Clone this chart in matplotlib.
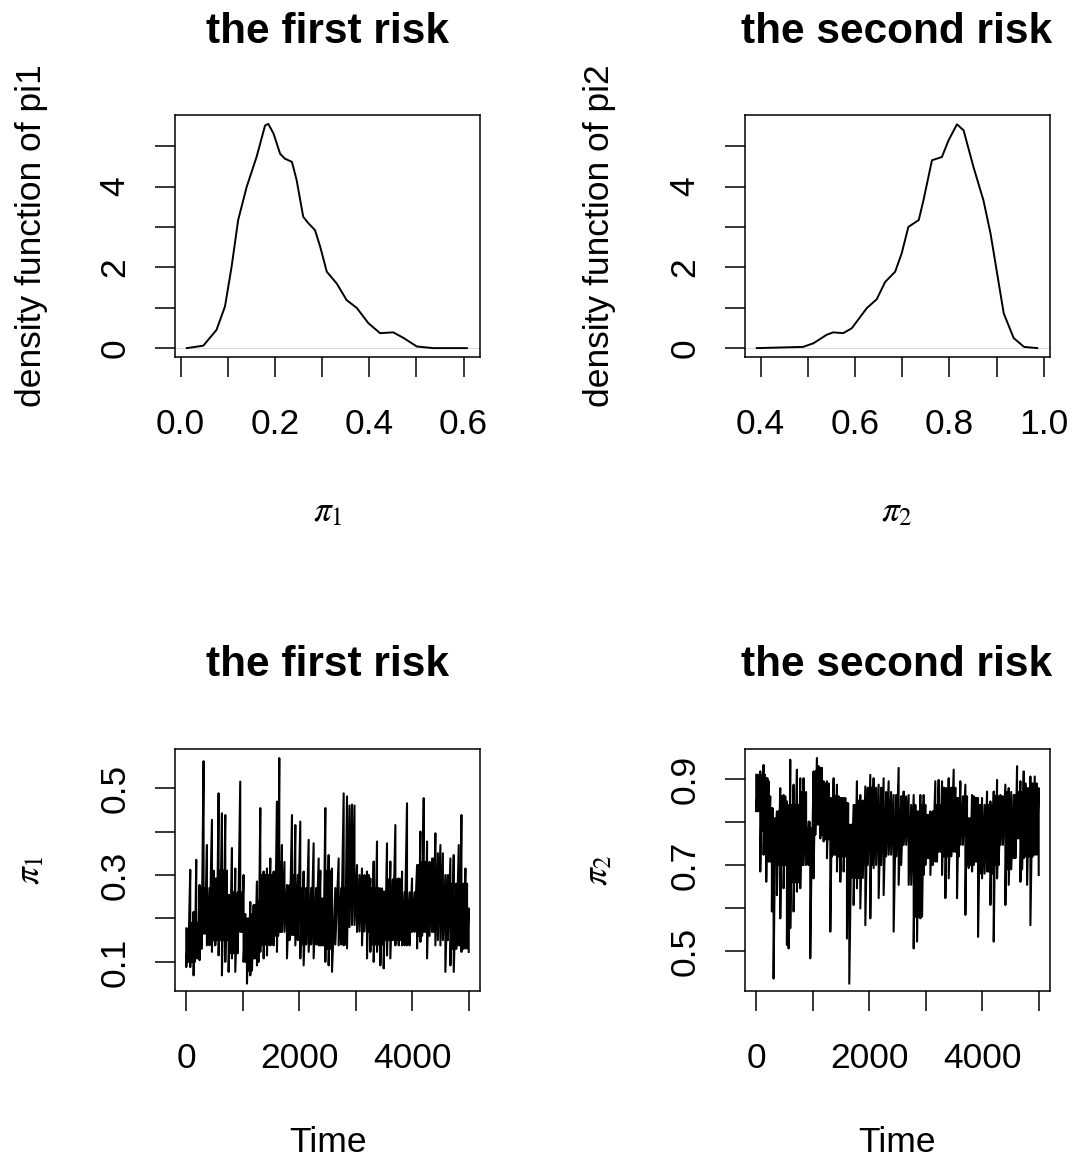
import numpy as np
import matplotlib

matplotlib.use("Agg")
import matplotlib.pyplot as plt

plt.rcParams["font.family"] = ["Liberation Sans", "DejaVu Sans"]
plt.rcParams["mathtext.fontset"] = "stix"

# density of pi1
d1_x = [0.013, 0.048, 0.076, 0.094, 0.108, 0.122, 0.140, 0.161, 0.179, 0.186,
        0.197, 0.211, 0.221, 0.236, 0.246, 0.260, 0.271, 0.285, 0.296, 0.310,
        0.331, 0.352, 0.374, 0.398, 0.423, 0.451, 0.473, 0.501, 0.536, 0.607]
d1_y = [0.0, 0.06, 0.45, 1.03, 2.01, 3.17, 3.99, 4.73, 5.51, 5.55,
        5.31, 4.81, 4.69, 4.61, 4.16, 3.25, 3.09, 2.92, 2.51, 1.89,
        1.60, 1.19, 0.99, 0.62, 0.37, 0.39, 0.25, 0.04, 0.0, 0.0]

# density of pi2
d2_x = [0.392, 0.490, 0.512, 0.540, 0.554, 0.575, 0.593, 0.625, 0.646, 0.664,
        0.685, 0.699, 0.713, 0.735, 0.745, 0.763, 0.784, 0.798, 0.816, 0.830,
        0.851, 0.872, 0.887, 0.901, 0.915, 0.936, 0.958, 0.986]
d2_y = [0.0, 0.03, 0.12, 0.33, 0.39, 0.37, 0.49, 0.99, 1.21, 1.64,
        1.89, 2.35, 3.00, 3.17, 3.66, 4.65, 4.73, 5.14, 5.54, 5.39,
        4.48, 3.66, 2.84, 1.85, 0.86, 0.25, 0.03, 0.0]

# trace of pi1: per-iteration-window max / min
t1_iter = [0, 71, 130, 177, 236, 307, 366, 455, 514, 573, 632, 691, 750, 809,
           868, 956, 1015, 1075, 1134, 1193, 1252, 1311, 1370, 1429, 1488,
           1547, 1606, 1647, 1694, 1783, 1872, 1931, 2019, 2078, 2167, 2255,
           2344, 2403, 2462, 2521, 2580, 2698, 2787, 2846, 2934, 3023, 3111,
           3200, 3259, 3318, 3377, 3436, 3495, 3554, 3613, 3702, 3761, 3820,
           3908, 3997, 4086, 4145, 4204, 4263, 4351, 4410, 4499, 4587, 4676,
           4735, 4824, 4871, 4942, 5000]
t1_hi = [0.177, 0.312, 0.215, 0.335, 0.277, 0.562, 0.369, 0.427, 0.292, 0.488,
         0.442, 0.438, 0.254, 0.362, 0.315, 0.515, 0.300, 0.200, 0.238, 0.231,
         0.285, 0.454, 0.308, 0.315, 0.338, 0.308, 0.469, 0.569, 0.369, 0.277,
         0.438, 0.415, 0.423, 0.308, 0.381, 0.373, 0.338, 0.246, 0.454, 0.346,
         0.315, 0.338, 0.488, 0.481, 0.462, 0.323, 0.315, 0.308, 0.292, 0.331,
         0.377, 0.269, 0.262, 0.373, 0.331, 0.415, 0.292, 0.308, 0.465, 0.292,
         0.323, 0.400, 0.477, 0.377, 0.338, 0.396, 0.369, 0.300, 0.338, 0.346,
         0.369, 0.438, 0.315, 0.223]
t1_lo = [0.088, 0.088, 0.069, 0.108, 0.104, 0.165, 0.138, 0.123, 0.138, 0.115,
         0.069, 0.100, 0.077, 0.108, 0.077, 0.169, 0.100, 0.050, 0.069, 0.108,
         0.092, 0.123, 0.108, 0.115, 0.138, 0.138, 0.123, 0.169, 0.169, 0.108,
         0.162, 0.138, 0.108, 0.092, 0.123, 0.108, 0.138, 0.138, 0.100, 0.092,
         0.077, 0.138, 0.138, 0.131, 0.185, 0.169, 0.138, 0.108, 0.123, 0.100,
         0.123, 0.092, 0.085, 0.115, 0.108, 0.138, 0.138, 0.138, 0.138, 0.169,
         0.131, 0.146, 0.169, 0.108, 0.169, 0.138, 0.138, 0.077, 0.092, 0.077,
         0.138, 0.123, 0.131, 0.123]
# dense core of the pi1 chain, by stretch of iterations
t1_core_start = [0, 190, 400, 700, 960, 1150, 1310, 1500, 1700, 2000, 2300,
                 2550, 2790, 2960, 3250, 3490, 3800, 4080, 4350, 4600]
t1_core_top = [0.19, 0.27, 0.31, 0.26, 0.21, 0.24, 0.30, 0.33, 0.30, 0.27,
               0.31, 0.27, 0.46, 0.30, 0.27, 0.29, 0.26, 0.33, 0.35, 0.28]
t1_core_bot = [0.10, 0.13, 0.15, 0.12, 0.08, 0.10, 0.14, 0.16, 0.15, 0.14,
               0.13, 0.14, 0.18, 0.17, 0.14, 0.15, 0.13, 0.16, 0.15, 0.13]

# trace of pi2
t2_iter = [0, 71, 130, 177, 218, 277, 307, 366, 425, 484, 543, 573, 602, 661,
           720, 779, 838, 927, 956, 1015, 1075, 1134, 1193, 1252, 1311, 1370,
           1429, 1488, 1547, 1606, 1647, 1724, 1783, 1842, 1931, 2019, 2078,
           2167, 2255, 2344, 2432, 2521, 2610, 2698, 2787, 2846, 2905, 2964,
           3023, 3082, 3170, 3229, 3289, 3348, 3407, 3495, 3554, 3613, 3702,
           3761, 3820, 3879, 3926, 3997, 4086, 4145, 4204, 4263, 4322, 4410,
           4469, 4558, 4617, 4676, 4735, 4794, 4853, 4930, 5000]
t2_hi = [0.910, 0.918, 0.933, 0.902, 0.895, 0.832, 0.809, 0.825, 0.879, 0.863,
         0.848, 0.786, 0.945, 0.887, 0.922, 0.902, 0.902, 0.801, 0.786, 0.918,
         0.949, 0.926, 0.895, 0.895, 0.856, 0.902, 0.887, 0.856, 0.856, 0.844,
         0.794, 0.840, 0.895, 0.863, 0.883, 0.910, 0.902, 0.887, 0.902, 0.895,
         0.863, 0.926, 0.871, 0.863, 0.863, 0.825, 0.863, 0.863, 0.817, 0.825,
         0.895, 0.898, 0.895, 0.879, 0.902, 0.922, 0.856, 0.895, 0.887, 0.809,
         0.863, 0.856, 0.856, 0.856, 0.871, 0.848, 0.871, 0.898, 0.863, 0.887,
         0.879, 0.863, 0.930, 0.895, 0.918, 0.879, 0.906, 0.906, 0.879]
t2_lo = [0.825, 0.685, 0.724, 0.661, 0.708, 0.592, 0.436, 0.630, 0.576, 0.646,
         0.514, 0.506, 0.553, 0.592, 0.638, 0.646, 0.700, 0.700, 0.483, 0.669,
         0.794, 0.762, 0.755, 0.716, 0.545, 0.724, 0.685, 0.661, 0.685, 0.529,
         0.424, 0.607, 0.646, 0.599, 0.560, 0.576, 0.693, 0.623, 0.630, 0.724,
         0.545, 0.654, 0.747, 0.654, 0.506, 0.522, 0.576, 0.677, 0.716, 0.677,
         0.708, 0.731, 0.677, 0.623, 0.669, 0.731, 0.623, 0.747, 0.584, 0.693,
         0.685, 0.708, 0.533, 0.669, 0.685, 0.607, 0.522, 0.669, 0.747, 0.607,
         0.654, 0.716, 0.762, 0.661, 0.716, 0.654, 0.560, 0.724, 0.677]
t2_core_start = [0, 190, 500, 750, 960, 1150, 1310, 1600, 1900, 2200, 2450,
                 2670, 2960, 3250, 3610, 3900, 4150, 4380, 4700]
t2_core_top = [0.91, 0.86, 0.84, 0.87, 0.93, 0.89, 0.86, 0.85, 0.88, 0.87,
               0.86, 0.84, 0.84, 0.88, 0.86, 0.84, 0.86, 0.87, 0.89]
t2_core_bot = [0.78, 0.70, 0.66, 0.70, 0.77, 0.76, 0.72, 0.67, 0.70, 0.72,
               0.70, 0.58, 0.70, 0.72, 0.70, 0.68, 0.70, 0.69, 0.72]

FS = 25.5
W, H = 1072, 1161
fig = plt.figure(figsize=(W / 100, H / 100), dpi=100)


def box(left, top, right, bottom):
    return [left / W, 1 - bottom / H, (right - left) / W, (bottom - top) / H]


def style(ax, xticks, xlabels, yticks, ylabels):
    ax.set_xticks(xticks)
    ax.set_xticklabels(xlabels)
    ax.set_yticks(yticks)
    ax.set_yticklabels(ylabels, rotation=90, va="center")
    ax.tick_params(axis="both", length=14.5, width=1.1, labelsize=FS)
    ax.tick_params(axis="x", pad=22)
    ax.tick_params(axis="y", pad=17)
    for s in ax.spines.values():
        s.set_linewidth(1.1)


def every_other(ticks, fmt):
    return [fmt.format(t) if i % 2 == 0 else "" for i, t in enumerate(ticks)]


def sweep(it, hi, lo, core_start, core_top, core_bot):
    """Walk each window from its max to its min, then across the dense core."""
    it = np.asarray(it, dtype=float)
    seg = np.searchsorted(core_start, it, side="right") - 1
    xs, ys = [], []
    for i in range(len(it)):
        xs += [it[i], it[i]]
        ys += [hi[i], lo[i]]
        if i < len(it) - 1:
            mid = (it[i] + it[i + 1]) / 2
            xs += [mid, mid]
            ys += [min(core_top[seg[i]], hi[i]), max(core_bot[seg[i]], lo[i])]
    return xs, ys


# top-left: density pi1
ax1 = fig.add_axes(box(175, 115, 480, 357))
ax1.axhline(0, color="#bbbbbb", lw=0.4)
ax1.plot(d1_x, d1_y, color="black", lw=1.4)
ax1.set_xlim(-0.012, 0.635)
ax1.set_ylim(-0.22, 5.77)
xt = [0.0, 0.1, 0.2, 0.3, 0.4, 0.5, 0.6]
style(ax1, xt, every_other(xt, "{:.1f}"), range(6), every_other(range(6), "{}"))

# top-right: density pi2
ax2 = fig.add_axes(box(745, 115, 1050, 357))
ax2.axhline(0, color="#bbbbbb", lw=0.4)
ax2.plot(d2_x, d2_y, color="black", lw=1.4)
ax2.set_xlim(0.367, 1.013)
ax2.set_ylim(-0.22, 5.77)
xt = [0.4, 0.5, 0.6, 0.7, 0.8, 0.9, 1.0]
style(ax2, xt, every_other(xt, "{:.1f}"), range(6), every_other(range(6), "{}"))

# bottom: traces
tt = [0, 1000, 2000, 3000, 4000, 5000]
ax3 = fig.add_axes(box(175, 749, 480, 991))
ax3.plot(*sweep(t1_iter, t1_hi, t1_lo, t1_core_start, t1_core_top, t1_core_bot),
         color="black", lw=1.5)
ax3.set_xlim(-199, 5200)
ax3.set_ylim(0.033, 0.59)
yt = [0.1, 0.2, 0.3, 0.4, 0.5]
style(ax3, tt, every_other(tt, "{}"), yt, every_other(yt, "{:.1f}"))

ax4 = fig.add_axes(box(745, 749, 1050, 991))
ax4.plot(*sweep(t2_iter, t2_hi, t2_lo, t2_core_start, t2_core_top, t2_core_bot),
         color="black", lw=1.5)
ax4.set_xlim(-199, 5200)
ax4.set_ylim(0.407, 0.97)
yt = [0.5, 0.6, 0.7, 0.8, 0.9]
style(ax4, tt, every_other(tt, "{}"), yt, every_other(yt, "{:.1f}"))

# titles and axis labels at R's margin lines
for cx, cy, title in [(328, 32, "the first risk"), (897, 32, "the second risk"),
                      (328, 665, "the first risk"), (897, 665, "the second risk")]:
    fig.text(cx / W, 1 - cy / H, title, ha="center", va="center",
             fontsize=30.5, fontweight="bold")

fig.text(328 / W, 1 - 512 / H, r"$\pi_1$", ha="center", va="center", fontsize=FS)
fig.text(897 / W, 1 - 512 / H, r"$\pi_2$", ha="center", va="center", fontsize=FS)
fig.text(328 / W, 1 - 1143 / H, "Time", ha="center", va="center", fontsize=FS)
fig.text(897 / W, 1 - 1143 / H, "Time", ha="center", va="center", fontsize=FS)
fig.text(32 / W, 1 - 236 / H, "density function of pi1", ha="center", va="center",
         rotation=90, fontsize=FS)
fig.text(600 / W, 1 - 236 / H, "density function of pi2", ha="center", va="center",
         rotation=90, fontsize=FS)
fig.text(30 / W, 1 - 870 / H, r"$\pi_1$", ha="center", va="center",
         rotation=90, fontsize=FS)
fig.text(598 / W, 1 - 870 / H, r"$\pi_2$", ha="center", va="center",
         rotation=90, fontsize=FS)

fig.savefig("out.png", dpi=100, facecolor="white")
